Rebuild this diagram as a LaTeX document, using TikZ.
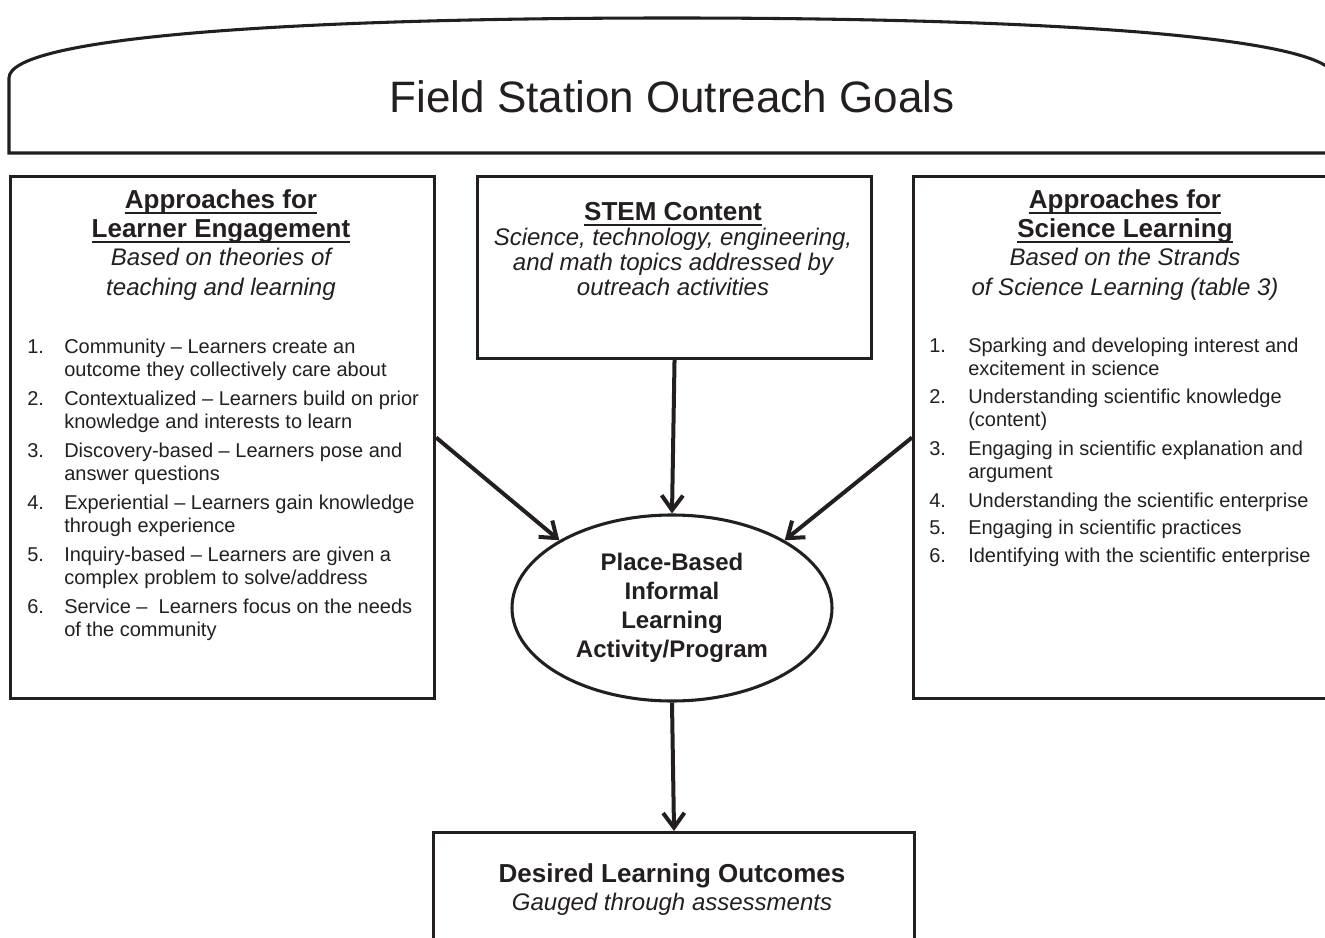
\documentclass[tikz,border=0pt]{standalone}
\usepackage{fontspec}
\setmainfont{Liberation Sans}
\usepackage{xcolor}
\usepackage{tikz}
\usetikzlibrary{positioning}
\usetikzlibrary{shapes, arrows.meta, shapes.geometric}
\definecolor{ink}{HTML}{231F20}
\newsavebox\undlbox
\newcommand{\undl}[1]{\sbox\undlbox{#1}\rlap{\rule[-3.6pt]{\wd\undlbox}{1.4pt}}\usebox\undlbox}

\begin{document}
\begin{tikzpicture}[
    x=0.75pt, y=-0.75pt,% one unit = one pixel of the figure
       frame/.style = {draw=ink, line width=2.3pt, inner sep=0pt, anchor=north west},% boxes
        head/.style = {text=ink, align=center, anchor=base, inner sep=0pt,
                       font=\fontsize{19.5pt}{21.75pt}\selectfont\bfseries},% box titles
         sub/.style = {text=ink, align=center, anchor=base, inner sep=0pt,
                       font=\fontsize{18pt}{21.75pt}\selectfont\itshape},% box subtitles
        item/.style = {text=ink, align=left, anchor=base west, inner sep=0pt,
                       font=\fontsize{15pt}{17.6pt}\selectfont},% list entries
         arr/.style = {draw=ink, line width=3pt, -{Straight Barb[length=11pt,width=16pt]}}
    ]
    \useasboundingbox (0,0) rectangle (1325,938);
    \clip (0,0) rectangle (1325,938);

    % goals banner
    \draw[ink, line width=2.3pt] (1345,153) -- (9,153) -- (9,78)
        .. controls (9,38) and (280,18) .. (672,18)
        .. controls (1064,18) and (1335,38) .. (1335,78) -- (1335,153);
    \node (goals) [text=ink, anchor=base, font=\fontsize{33pt}{36pt}\selectfont] at (672,113) {Field Station Outreach Goals};

    % the three upper boxes
    \node (learner) [frame, minimum width=318pt, minimum height=391.5pt] at (9,175) {};
    \node (stem) [frame, minimum width=295.5pt, minimum height=136.5pt] at (476,175) {};
    \node (science) [frame, minimum width=324pt, minimum height=391.5pt] at (912,175) {};

    % (base = baseline of the last line)
    \node (lrnhead) [head] at (221,238) {\undl{Approaches for}\\\undl{Learner Engagement}};
    \node (lrnsub) [sub] at (221,295) {Based on theories of\\teaching and learning};
    \node (stemhead) [head] at (673,221) {\undl{STEM Content}};
    \node (stemsub) [sub, font=\fontsize{18pt}{18.75pt}\selectfont\itshape] at (673,295)
        {Science, technology, engineering,\\and math topics addressed by\\outreach activities};
    \node (scihead) [head] at (1125,238) {\undl{Approaches for}\\\undl{Science Learning}};
    \node (scisub) [sub] at (1125,295) {Based on the Strands\\of Science Learning (table 3)};

    % learner engagement list
    \foreach \n/\y/\txt in {
        1/353/{Community -- Learners create an\\outcome they collectively care about},
        2/405/{Contextualized -- Learners build on prior\\knowledge and interests to learn},
        3/457/{Discovery-based -- Learners pose and\\answer questions},
        4/509/{Experiential -- Learners gain knowledge\\through experience},
        5/561/{Inquiry-based -- Learners are given a\\complex problem to solve/address},
        6/613/{Service --\ \ Learners focus on the needs\\of the community}}{
        \node (lnum\n) [item] at (27,\y) {\n.};
        \node (lrn\n) [item] at (64,\y+23.5) {\txt};
    }

    % science learning list
    \foreach \n/\y/\k/\txt in {
        1/352/1/{Sparking and developing interest and\\excitement in science},
        2/403/1/{Understanding scientific knowledge\\(content)},
        3/455/1/{Engaging in scientific explanation and\\argument},
        4/507/0/{Understanding the scientific enterprise},
        5/534/0/{Engaging in scientific practices},
        6/562/0/{Identifying with the scientific enterprise}}{
        \node (snum\n) [item] at (929,\y) {\n.};
        \node (sci\n) [item] at (968,\y+23.5*\k) {\txt};
    }

    % activity and outcomes
    \node (place) [ellipse, draw=ink, line width=2.3pt, minimum width=240pt, minimum height=139.5pt,
        inner sep=0pt, align=center, text=ink, font=\fontsize{18pt}{21.75pt}\selectfont\bfseries]
        at (672,608) {Place-Based\\Informal\\Learning\\Activity/Program};
    \node (outcome) [frame, minimum width=360.75pt, minimum height=100pt] at (432,831) {};
    \node (outhead) [head] at (672,882) {Desired Learning Outcomes};
    \node (outsub) [sub] at (672,910) {Gauged through assessments};

    \draw[arr] (learner.east) -- (place.149);
    \draw[arr] (science.west) -- (place.31);
    \draw[arr] (stem.south) -- (place.north);
    \draw[arr] (place.south) -- (outcome.north);
\end{tikzpicture}
\end{document}
